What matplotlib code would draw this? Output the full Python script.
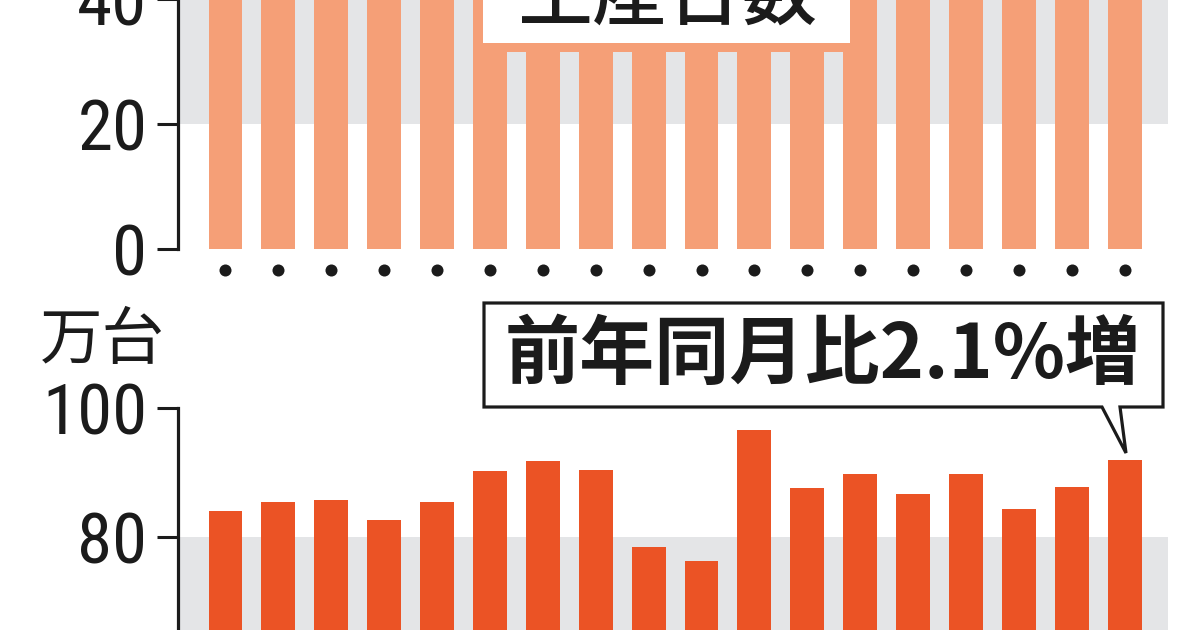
import matplotlib
matplotlib.use('Agg')
import matplotlib.pyplot as plt
from matplotlib import font_manager
from matplotlib.font_manager import FontProperties
from matplotlib.patches import Rectangle, Polygon
from matplotlib.transforms import blended_transform_factory
import numpy as np

# ---------------- data ----------------
months = ['1', '2', '3', '4', '5', '6', '7', '8', '9', '10', '11', '12',
          '13', '14', '15', '16', '17', '18']
# upper panel bars run off the top of the crop (values estimated, > 40)
top_values = [52, 54, 55, 51, 53, 58, 59, 57, 50, 48, 62, 56, 57, 55, 57, 53, 56, 59]
# lower panel (万台)
bottom_values = [84.1, 85.4, 85.7, 82.7, 85.4, 90.2, 91.9, 90.4, 78.5, 76.3,
                 96.6, 87.6, 89.8, 86.7, 89.8, 84.4, 87.8, 92.0]
top_ticks = [0, 20, 40]
bottom_ticks = [80, 100]
top_title = '生産台数'
unit_label = '万台'
callout = '前年同月比2.1%増'

# ---------------- style ----------------
TOP_COLOR = '#F59F77'
BOT_COLOR = '#EB5325'
BAND = '#E4E5E7'
INK = '#1b1b1b'
CJK = ['Noto Sans CJK JP', 'DejaVu Sans']


def pick_narrow_font():
    """Find a condensed sans font for the digits; fall back to Liberation Sans."""
    fl = font_manager.fontManager.ttflist
    prefs = [
        lambda f: f.name == 'Liberation Sans Narrow' and f.style == 'normal' and f.weight in (400, 'normal'),
        lambda f: f.name == 'Liberation Sans Narrow',
        lambda f: 'Condensed' in f.name and 'Roboto' in f.name and f.style == 'normal',
        lambda f: f.name == 'DejaVu Sans' and f.stretch == 'condensed' and f.style == 'normal'
                  and f.weight in (400, 'normal', 'book'),
        lambda f: f.name == 'DejaVu Sans' and f.stretch == 'condensed' and f.style == 'normal',
    ]
    for i, p in enumerate(prefs):
        for f in fl:
            try:
                if p(f):
                    return FontProperties(fname=f.fname), i
            except Exception:
                pass
    return FontProperties(family='Liberation Sans'), None


NUM_FP, NUM_KIND = pick_narrow_font()

W, H = 1200, 630
fig = plt.figure(figsize=(12, 6.3), dpi=100)
fig.patch.set_facecolor('white')


def fx(px):
    return px / W


def fy(py):
    return 1 - py / H


x = np.arange(len(months))
bar_w = 0.64
xlim = (-0.898, len(months) - 1 + 0.82)
ax_left, ax_right = 178, 1168

# target: a 3-digit label about 105 px wide
LABEL_SIZE = 55


def style_axis(ax, ticks):
    for s in ('top', 'right', 'bottom'):
        ax.spines[s].set_visible(False)
    ax.spines['left'].set_linewidth(2.3)
    ax.spines['left'].set_color(INK)
    ax.set_xticks([])
    ax.set_yticks(ticks, labels=[str(t) for t in ticks])
    ax.tick_params(axis='y', length=15, width=2.2, pad=7, color=INK, labelcolor=INK)
    for lbl in ax.get_yticklabels():
        lbl.set_fontproperties(NUM_FP)
        lbl.set_fontsize(LABEL_SIZE)
    ax.set_xlim(*xlim)
    ax.set_facecolor('none')


# ---------------- top panel ----------------
top_ylim = (0, 40.5)
top_px_per_unit = 6.27
top_h = (top_ylim[1] - top_ylim[0]) * top_px_per_unit
ax1 = fig.add_axes([fx(ax_left), fy(249.5), fx(ax_right) - fx(ax_left), top_h / H])
ax1.axhspan(20, 40, color=BAND, zorder=0, lw=0)
ax1.bar(x, top_values, width=bar_w, color=TOP_COLOR, zorder=2)
ax1.set_ylim(*top_ylim)
style_axis(ax1, top_ticks)

# dots under each bar
tr = blended_transform_factory(ax1.transData, ax1.transAxes)
ax1.scatter(x, np.full(len(x), -20.5 / top_h), s=75, color=INK, transform=tr,
            clip_on=False, zorder=3, linewidths=0)

# title label box (orange margin + white box)
ax1.add_patch(Rectangle((5 - bar_w / 2, 31.5), 7 + bar_w, 20, facecolor=TOP_COLOR,
                        edgecolor='none', zorder=4))
ax1.add_patch(Rectangle((4.87, 32.9), 11.81 - 4.87, 20, facecolor='white',
                        edgecolor='none', zorder=5))
fig.text(fx(668), fy(-1), top_title, fontsize=54, family=CJK, fontweight='medium',
         color=INK, ha='center', va='center', zorder=6)

# ---------------- bottom panel ----------------
bot_ylim = (65.6, 100)
ax2 = fig.add_axes([fx(ax_left), 0, fx(ax_right) - fx(ax_left), (H - 408.3) / H])
ax2.axhspan(60, 80, color=BAND, zorder=0, lw=0)
ax2.bar(x, bottom_values, width=bar_w, color=BOT_COLOR, zorder=2)
ax2.set_ylim(*bot_ylim)
style_axis(ax2, bottom_ticks)

fig.text(fx(102), fy(341), unit_label, fontsize=45, family=CJK, color=INK,
         ha='center', va='center')

# callout box with tail
box = [(484, 303), (1163, 303), (1163, 407), (1120, 407), (1126, 453),
       (1102, 407), (484, 407)]
poly = Polygon([(fx(a), fy(b)) for a, b in box], closed=True, transform=fig.transFigure,
               facecolor='white', edgecolor=INK, linewidth=2.3, joinstyle='miter',
               zorder=5)
fig.add_artist(poly)
ct = fig.text(fx(823), fy(356), callout, fontsize=55, fontweight='bold', family=CJK,
              color=INK, ha='center', va='center', zorder=6)

# fit text sizes: callout width and tick-label width
fig.canvas.draw()
r = fig.canvas.get_renderer()
w = ct.get_window_extent(r).width
ct.set_fontsize(55 * 636 / w)

lbl100 = [l for l in ax2.get_yticklabels() if l.get_text() == '100'][0]
w100 = lbl100.get_window_extent(r).width
new_size = LABEL_SIZE * min(1.0, 105 / w100)
for ax in (ax1, ax2):
    for lbl in ax.get_yticklabels():
        lbl.set_fontsize(new_size)

fig.savefig('out.png', dpi=100, facecolor='white')
